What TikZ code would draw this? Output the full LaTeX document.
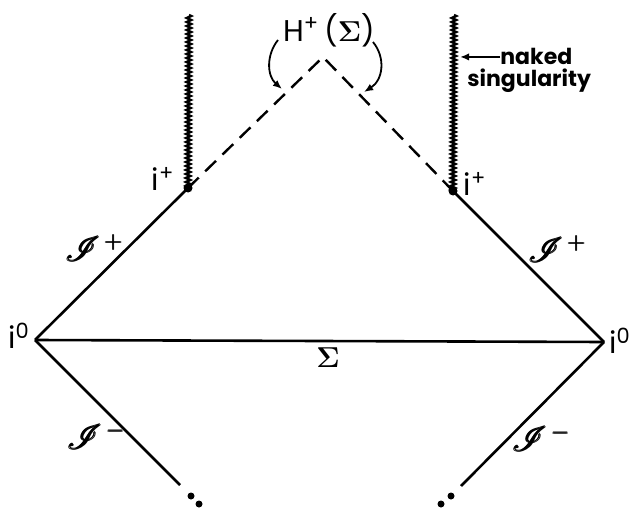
\documentclass[tikz,border=0pt]{standalone}
\usepackage{amsmath,amssymb,mathrsfs}
\usepackage{fontspec}
\setmainfont{Poppins}
\usetikzlibrary{arrows.meta,decorations.pathmorphing}

\begin{document}
\begin{tikzpicture}[x=0.5pt, y=-0.5pt, >={Latex[length=1.6mm,width=1.3mm]},
	edge/.style={line width=1.3pt},
	horizon/.style={line width=1.2pt, dash pattern=on 7.5pt off 4.5pt},
	wiggle/.style={line width=1.2pt, decorate, decoration={zigzag, segment length=2pt, amplitude=1.1pt}},
	lbl/.style={inner sep=0pt, font=\fontsize{15}{18}\selectfont},
	scri/.style={inner sep=0pt, font=\fontsize{17}{20}\selectfont},
	dot/.style={circle, fill, inner sep=0pt, minimum size=3.5pt}]
	\useasboundingbox (0,0) rectangle (632,508);
	% corners
	\coordinate (iol) at (35,340);
	\coordinate (ior) at (604,342);
	\coordinate (top) at (323,57);
	\node[dot, minimum size=4.5pt] (ipl) at (188,188) {};
	\node[dot, minimum size=4.5pt] (ipr) at (453,191) {};
	\coordinate (singl) at (189,15);
	\coordinate (singr) at (454,15);
	\coordinate (endl) at (180,485);
	\coordinate (endr) at (461,486);
	\node[dot] (dl1) at (191,496) {};
	\node[dot] (dl2) at (199,504) {};
	\node[dot] (dr1) at (451,496) {};
	\node[dot] (dr2) at (441,504) {};
	% lines
	\draw[edge] (iol) -- (ior);
	\draw[edge] (iol) -- (ipl.center);
	\draw[edge] (ior) -- (ipr.center);
	\draw[edge] (iol) -- (endl);
	\draw[edge] (ior) -- (endr);
	\draw[horizon] (ipl.center) -- (top) -- (ipr.center);
	\draw[wiggle] (singl) -- (ipl.center);
	\draw[wiggle] (singr) -- (ipr.center);
	% labels
	\node[lbl] (lio) at (19,336) {i\textsuperscript{0}};
	\node[lbl] (rio) at (620,341) {i\textsuperscript{0}};
	\node[lbl] (lip) at (163,179) {i\textsuperscript{+}};
	\node[lbl] (rip) at (475,184) {i\textsuperscript{+}};
	\node[scri] (lsp) at (95,248) {$\pmb{\mathscr{I}}^{\,\pmb{+}}$};
	\node[scri] (rsp) at (558,249) {$\pmb{\mathscr{I}}^{\,\pmb{+}}$};
	\node[scri] (lsm) at (97,436) {$\pmb{\mathscr{I}}^{\,\pmb{-}}$};
	\node[scri] (rsm) at (542,438) {$\pmb{\mathscr{I}}^{\,\pmb{-}}$};
	\node[lbl] (sig) at (328,358) {$\boldsymbol{\Sigma}$};
	\node[lbl] (hp) at (329,30) {H\textsuperscript{+}\,($\boldsymbol{\Sigma}$)};
	\node[inner sep=0pt, anchor=base west, font=\fontsize{11}{13}\bfseries] (nk) at (500,65) {naked};
	\node[inner sep=0pt, anchor=base west, font=\fontsize{11}{13}\bfseries] (sg) at (467,87) {singularity};
	% arrows
	\coordinate (ns) at (460,58);
	\coordinate (al) at (278,40);
	\coordinate (alt) at (282,89);
	\coordinate (ar) at (373,42);
	\coordinate (art) at (364,92);
	\draw[->, line width=0.9pt] (al) .. controls (266,55) and (267,76) .. (alt);
	\draw[->, line width=0.9pt] (ar) .. controls (386,58) and (383,80) .. (art);
	\draw[->, line width=0.9pt] (nk.west) -- (nk.west -| ns);
\end{tikzpicture}
\end{document}
